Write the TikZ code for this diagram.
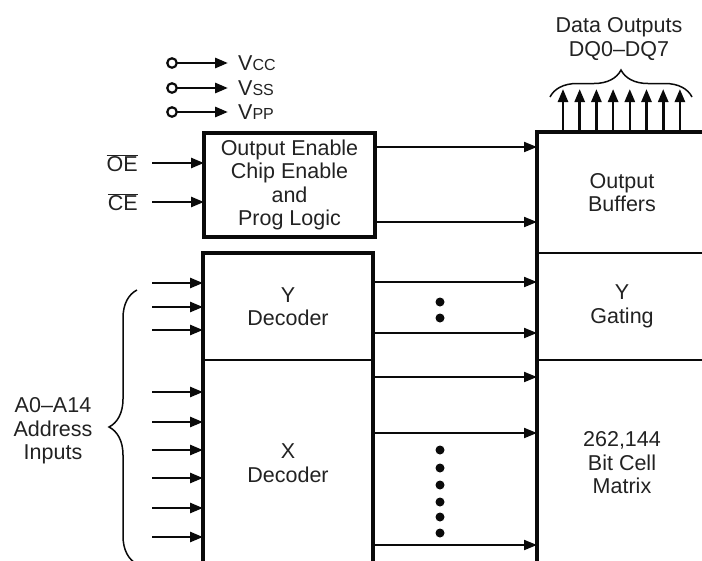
\documentclass[tikz,border=0pt]{standalone}
\usepackage{fontspec}
\setmainfont{Liberation Sans}
\usetikzlibrary{arrows.meta, positioning, decorations.pathreplacing, calc}
\definecolor{ink}{HTML}{0A0A0A}
\definecolor{txt}{HTML}{222222}
\newcommand{\lbl}{\fontsize{21.5}{23.5}\selectfont}
\newcommand{\subl}{\fontsize{16}{18}\selectfont}
\tikzset{
  blk/.style={draw=none, minimum width=170pt, inner sep=0pt, outer sep=0pt,
              align=center, font=\lbl, text=txt},
  ctlbox/.style={blk, draw=ink, line width=4.3pt},
  heavy/.style={line width=4.3pt, draw=ink},
  divl/.style={line width=1.6pt, draw=ink},
  sig/.style={-{Triangle[length=13pt, width=10pt]}, line width=2.6pt, draw=ink},
  bus/.style={-{Triangle[length=13pt, width=10pt]}, line width=2pt, draw=ink},
  pinc/.style={circle, draw=ink, line width=2.2pt, fill=white, inner sep=0pt,
               minimum size=9.5pt, outer sep=0pt},
  tag/.style={inner sep=0pt, font=\lbl, text=txt, align=center},
  brc/.style={decorate, decoration={brace, amplitude=#1}, line width=1.5pt, draw=ink},
  dot/.style={circle, fill=ink, inner sep=0pt, minimum size=9pt},
}

\begin{document}
\begin{tikzpicture}[x=1pt, y=-1pt]
  \useasboundingbox (0,0) rectangle (702,560);
  \clip (0,0) rectangle (702,560);

  % supply pins
  \foreach \nm/\sub/\y in {vcc/CC/63, vss/SS/88, vpp/PP/112}{
    \node[pinc] (\nm-in) at (172,\y) {};
    \node[tag, anchor=west] (\nm) at (238,\y) {V{\subl\sub}};
    \draw[sig, line width=2.8pt] (\nm-in) -- ([xshift=-10pt]\nm.west);
  }

  % blocks
  \node[ctlbox, minimum width=171pt, minimum height=104pt] (ctl) at (289.5,185)
    {Output Enable\\Chip Enable\\and\\Prog Logic};
  \node[blk, minimum height=107pt] (ydec) at (288,306.5) {Y\\Decoder};
  \node[blk, minimum height=206pt, below=0pt of ydec] (xdec) {X\\Decoder};
  \node[blk, minimum height=121pt] (obuf) at (622,192.5) {Output\\Buffers};
  \node[blk, minimum height=107pt, below=0pt of obuf] (ygat) {Y\\Gating};
  \node[blk, minimum height=206pt, below=0pt of ygat] (cell) {262,144\\Bit Cell\\Matrix};

  \draw[heavy] (xdec.south west) |- (ydec.north east) -- (xdec.south east);
  \draw[divl] (ydec.south west) -- (ydec.south east);
  \draw[heavy] (cell.south west) |- (obuf.north east);
  \draw[divl] (ygat.north west) -- (ygat.north east);
  \draw[divl] (ygat.south west) -- (ygat.south east);

  % control inputs
  \node[tag, anchor=east] (oe) at (138,163) {$\overline{\mbox{OE}}$};
  \node[tag, anchor=east] (ce) at (138,202) {$\overline{\mbox{CE}}$};
  \foreach \s in {oe,ce}
    \draw[sig] ([xshift=14pt]\s.east) -- (\s.east -| ctl.west);

  % control to buffers
  \foreach \y [count=\i] in {147,222}{
    \coordinate (c\i) at (0,\y);
    \draw[bus] (c\i -| ctl.east) -- (c\i -| obuf.west);
  }

  % address inputs
  \foreach \y [count=\i] in {283,307,330,392,422,450,478,508,537}{
    \coordinate (a\i) at (152,\y);
    \draw[sig] (a\i) -- (a\i -| ydec.west);
  }
  \draw[brc=28pt] (137,564) -- (137,290);
  \node[tag] (addr) at (53,431) {A0--A14\\Address\\Inputs};

  % decoder lines
  \foreach \y [count=\i] in {282,333,377,433,545}{
    \coordinate (r\i) at (0,\y);
    \draw[bus] (r\i -| ydec.east) -- (r\i -| ygat.west);
  }
  \foreach \y in {302,318,450,468,485,502,517,533}
    \node[dot] (d\y) at (440,\y) {};

  % data outputs
  \foreach \i in {0,...,7}{
    \coordinate (q\i) at (563+16.7*\i,89);
    \draw[sig] (q\i |- obuf.north) -- (q\i);
  }
  \draw[brc=27pt] (550,97) -- (692,97);
  \node[tag] (dq) at (619,39) {Data Outputs\\DQ0--DQ7};
\end{tikzpicture}
\end{document}
